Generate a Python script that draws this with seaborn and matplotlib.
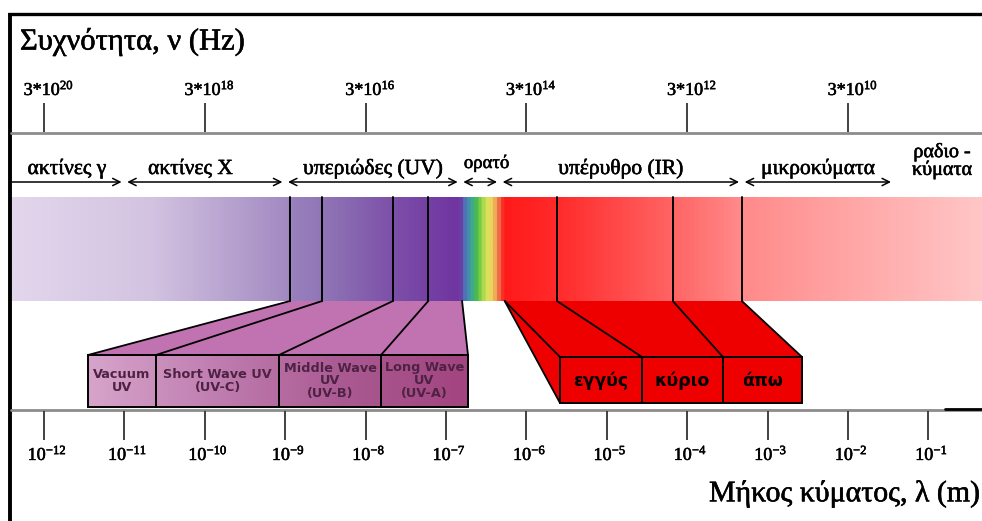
import numpy as np
import matplotlib.pyplot as plt
import matplotlib.patheffects as pe
import seaborn as sns
from matplotlib.colors import LinearSegmentedColormap
from matplotlib.patches import Polygon, Rectangle

# lower scale: decades of wavelength (log10 of metres)
wave_exp = list(range(-12, 0))
# upper scale: frequency labels 3*10^n Hz, placed at lambda = c / f
freq_exp = [20, 18, 16, 14, 12, 10]
c_light = 3e8

# main bands and the log10(lambda) boundaries between them
band_names = ["ακτίνες γ", "ακτίνες X", "υπεριώδες (UV)", "ορατό",
              "υπέρυθρο (IR)", "μικροκύματα", "ραδιο -\nκύματα"]
band_edges = [-11.0, -9.0, -6.82, -6.33, -3.32, -1.43]

# UV sub-bands on the spectrum strip
uv_names = ["Vacuum\nUV", "Short Wave UV\n(UV-C)", "Middle Wave\nUV\n(UV-B)", "Long Wave\nUV\n(UV-A)"]
uv_edges = [-8.94, -8.54, -7.66, -7.22, -6.80]

# IR sub-bands on the spectrum strip
ir_names = ["εγγύς", "κύριο", "άπω"]
ir_edges = [-6.27, -5.62, -4.18, -3.32]


# ---- layout (pixel rows / columns of the picture) ----
def px(x):
    # horizontal pixel -> log10(lambda)
    return -12 + (x - 44) / 80.4


strip_top, strip_bot = 197, 301
uv_box_px = [88, 156, 279, 381, 468]
ir_box_px = [560, 642, 723, 802]

strip_stops = [(12, "#e2d6ec"), (150, "#d3c3e1"), (285, "#a38bc2"), (292, "#9880bc"),
               (322, "#9076b6"), (393, "#7c50a8"), (428, "#7440a4"), (460, "#7034a0"),
               (465, "#4c78b8"), (471, "#3ea2a0"), (477, "#4cc040"), (483, "#a6d84a"),
               (489, "#ece462"), (494, "#eec05a"), (499, "#ee6a48"), (504, "#ff1a1a"),
               (557, "#ff2a2a"), (673, "#ff6464"), (742, "#ff8a8a"), (982, "#ffc6c6")]

sns.set_theme(style="white")
plt.rcParams["font.family"] = ["Liberation Serif", "DejaVu Serif"]
plt.rcParams["text.color"] = "black"
plt.rcParams["mathtext.fontset"] = "custom"
plt.rcParams["mathtext.rm"] = "Liberation Serif"
plt.rcParams["mathtext.it"] = "Liberation Serif:italic"

heavy = [pe.withStroke(linewidth=0.4, foreground="black")]

fig = plt.figure(figsize=(9.82, 5.21), dpi=100)
ax = fig.add_axes([0, 0, 1, 1])
ax.set_xlim(px(0), px(982))
ax.set_ylim(521, 0)
ax.axis("off")

# frame
ax.plot([px(8), px(990)], [14, 14], color="black", lw=2.4, solid_capstyle="butt")
ax.plot([px(10), px(10)], [13, 530], color="black", lw=2.8, solid_capstyle="butt")

ax.text(px(20), 42, "Συχνότητα, ν (Hz)", fontsize=22, ha="left", va="center", path_effects=heavy)

# frequency scale
freq_pos = [np.log10(c_light / (3 * 10.0 ** e)) for e in freq_exp]
ax.plot([px(11), px(990)], [133, 133], color="#8c8c8c", lw=2)
ax.vlines(freq_pos, 103, 132, color="#333333", lw=1.3)
for x, e in zip(freq_pos, freq_exp):
    ax.text(x + 0.06, 95, f"3*10$^{{{e}}}$", fontsize=13, ha="center", va="baseline",
            path_effects=heavy)

# band arrows and names
gap = 0.035
starts = [px(12)] + [b + gap for b in band_edges]
ends = [b - gap for b in band_edges] + [px(995)]
for i, (x0, x1) in enumerate(zip(starts, ends)):
    style = "->" if i == 0 else ("<-" if i == len(starts) - 1 else "<->")
    ax.annotate("", xy=(x1, 182), xytext=(x0, 182),
                arrowprops=dict(arrowstyle=style, lw=1.1, color="black",
                                shrinkA=0, shrinkB=0, mutation_scale=13))
for i, name in enumerate(band_names):
    xc = (starts[i] + min(ends[i], px(982))) / 2
    if name == "ορατό":
        ax.text(xc + 0.08, 168, name, fontsize=13.5, ha="center", va="baseline", path_effects=heavy)
    elif "\n" in name:
        ax.text(px(942), 161, name, fontsize=14.5, ha="center", va="center", linespacing=0.85,
                path_effects=heavy)
    else:
        if i == 1:
            xc -= 0.18
        ax.text(xc, 174, name, fontsize=15.5, ha="center", va="baseline", path_effects=heavy)

# spectrum strip
pos = [(p - 12) / (982 - 12) for p, _ in strip_stops]
cmap = LinearSegmentedColormap.from_list("spec", list(zip(pos, [c for _, c in strip_stops])))
ax.imshow(np.linspace(0, 1, 1200)[None, :], cmap=cmap, aspect="auto",
          extent=[px(12), px(982), strip_bot, strip_top], interpolation="bilinear", zorder=1)

# UV call-out
uv_box = [px(p) for p in uv_box_px]
ax.add_patch(Polygon([(uv_edges[0], strip_bot), (uv_edges[-1], strip_bot),
                      (uv_box[-1], 355), (uv_box[0], 355)],
                     closed=True, facecolor="#c172b1", edgecolor="none", zorder=2))
uv_cmap = sns.blend_palette(["#d6a4cb", "#c07eb0", "#aa5a92", "#a2447f"], as_cmap=True)
ax.imshow(np.linspace(0, 1, 400)[None, :], cmap=uv_cmap, aspect="auto",
          extent=[uv_box[0], uv_box[-1], 407, 355], interpolation="bilinear", zorder=2)
for i in range(4):
    ax.plot([uv_edges[i], uv_edges[i]], [strip_top, strip_bot], color="black", lw=1.4, zorder=3)
for i in range(5):
    ax.plot([uv_edges[i], uv_box[i]], [strip_bot, 355], color="black", lw=1.3, zorder=3)
for i, name in enumerate(uv_names):
    ax.add_patch(Rectangle((uv_box[i], 355), uv_box[i + 1] - uv_box[i], 52,
                           facecolor="none", edgecolor="black", lw=1.4, zorder=3))
    ax.text((uv_box[i] + uv_box[i + 1]) / 2, 381, name, fontsize=9.3, fontweight="bold",
            family="DejaVu Sans", color="#4e2244", ha="center", va="center",
            linespacing=1.0, zorder=4)

# IR call-out
ir_box = [px(p) for p in ir_box_px]
ax.add_patch(Polygon([(ir_edges[0], strip_bot), (ir_edges[-1], strip_bot),
                      (ir_box[-1], 357), (ir_box[-1], 403), (ir_box[0], 403)],
                     closed=True, facecolor="#ee0000", edgecolor="none", zorder=2))
for i in range(1, 4):
    ax.plot([ir_edges[i], ir_edges[i]], [strip_top, strip_bot], color="black", lw=1.4, zorder=3)
    ax.plot([ir_edges[i], ir_box[i]], [strip_bot, 357], color="black", lw=1.3, zorder=3)
ax.plot([ir_edges[0], ir_box[0]], [strip_bot, 357], color="black", lw=1.3, zorder=3)
ax.plot([ir_edges[0], ir_box[0]], [strip_bot, 403], color="black", lw=1.3, zorder=3)
for i, name in enumerate(ir_names):
    ax.add_patch(Rectangle((ir_box[i], 357), ir_box[i + 1] - ir_box[i], 46,
                           facecolor="#ee0000", edgecolor="black", lw=1.4, zorder=3))
    ax.text((ir_box[i] + ir_box[i + 1]) / 2, 381, name, fontsize=12.5, fontweight="bold",
            family="DejaVu Sans", color="black", ha="center", va="center", zorder=4)

# wavelength scale
ax.plot([px(11), px(990)], [410, 410], color="#8c8c8c", lw=2)
ax.plot([px(945), px(990)], [409, 409], color="black", lw=2)
ax.vlines(wave_exp, 411, 440, color="#333333", lw=1.3)
for e in wave_exp:
    ax.text(e + 0.04, 460, f"10$^{{{e}}}$", fontsize=13, ha="center", va="baseline",
            path_effects=heavy)

ax.text(px(980), 494, "Μήκος κύματος, λ (m)", fontsize=21.5, ha="right", va="center",
        path_effects=heavy)

plt.savefig("out.png", dpi=100)
